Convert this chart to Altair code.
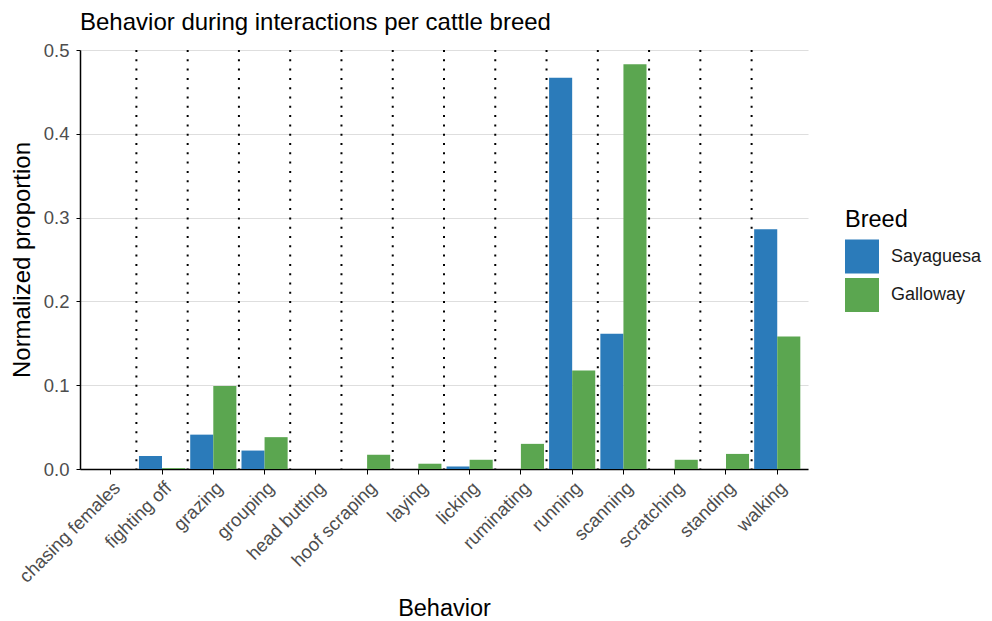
import altair as alt
import pandas as pd

behaviors = ["chasing females", "fighting off", "grazing", "grouping", "head butting",
             "hoof scraping", "laying", "licking", "ruminating", "running",
             "scanning", "scratching", "standing", "walking"]
breeds = ["Sayaguesa", "Galloway"]
sayaguesa = [0.0, 0.0155, 0.041, 0.022, 0.0, 0.0, 0.0, 0.003, 0.0, 0.467,
             0.1615, 0.0, 0.0, 0.286]
galloway = [0.0, 0.001, 0.099, 0.038, 0.0, 0.017, 0.0063, 0.011, 0.030, 0.1175,
            0.483, 0.011, 0.018, 0.158]
y_ticks = [0.0, 0.1, 0.2, 0.3, 0.4, 0.5]
colors = ["#2b7bba", "#5ba650"]

rows = []
for b, s, g in zip(behaviors, sayaguesa, galloway):
    rows.append({"Behavior": b, "Breed": "Sayaguesa", "value": s})
    rows.append({"Behavior": b, "Breed": "Galloway", "value": g})
df = pd.DataFrame(rows)
sep = pd.DataFrame({"Behavior": behaviors[:-1]})

W, H = 728, 419
FONT = "Liberation Sans"

xscale = alt.Scale(domain=behaviors, paddingInner=0, paddingOuter=0.1)

bars = alt.Chart(df).mark_bar().encode(
    x=alt.X("Behavior:N", scale=xscale, sort=behaviors, title="Behavior",
            axis=alt.Axis(labelAngle=-45, labelAlign="right", labelBaseline="top",
                          labelFontSize=18.5, labelColor="#4d4d4d", labelFont=FONT,
                          labelPadding=4, bandPosition=0.5,
                          tickColor="black", tickSize=5, tickWidth=1,
                          domainColor="black", domainWidth=1.5, grid=False,
                          titleFontSize=23.5, titleColor="black", titleFont=FONT,
                          titleFontWeight="normal", titlePadding=11)),
    xOffset=alt.XOffset("Breed:N", sort=breeds,
                        scale=alt.Scale(domain=breeds, paddingInner=0, paddingOuter=0.111)),
    y=alt.Y("value:Q", scale=alt.Scale(domain=[0, 0.5], nice=False, zero=True),
            title="Normalized proportion",
            axis=alt.Axis(values=y_ticks, format=".1f", labelFontSize=18.5,
                          labelColor="#4d4d4d", labelFont=FONT, labelPadding=7,
                          tickColor="black", tickSize=4, tickWidth=1,
                          domainColor="black", domainWidth=1.5,
                          grid=True, gridColor="#dedede", gridWidth=1.2,
                          titleFontSize=24, titleColor="black", titleFont=FONT,
                          titleFontWeight="normal", titlePadding=9)),
    color=alt.Color("Breed:N", scale=alt.Scale(domain=breeds, range=colors),
                    legend=alt.Legend(title="Breed", orient="none", legendX=765, legendY=158,
                                      titleFontSize=23.5, titleColor="black", titleFont=FONT,
                                      titleFontWeight="normal", titlePadding=8,
                                      labelFontSize=18, labelColor="#1a1a1a", labelFont=FONT,
                                      labelOffset=12, labelLimit=200,
                                      symbolType="square", symbolSize=1156,
                                      symbolStrokeWidth=0, symbolOpacity=1, rowPadding=4.5)),
)

rules = alt.Chart(sep).mark_rule(color="black", strokeWidth=2, strokeDash=[2, 7.3]).encode(
    x=alt.X("Behavior:N", scale=xscale, sort=behaviors, bandPosition=1, title="Behavior"),
    y=alt.value(0),
    y2=alt.value(H),
)

chart = alt.layer(bars, rules).properties(
    width=W, height=H,
    title=alt.TitleParams("Behavior during interactions per cattle breed", anchor="start",
                          frame="group", fontSize=24, font=FONT, fontWeight="normal",
                          color="black", offset=6),
    autosize=alt.AutoSizeParams(type="none"),
    padding={"left": 72, "top": 42, "right": 176, "bottom": 152},
).configure_view(stroke=None)

chart.save("out.html", embed_options={"renderer": "svg", "actions": False})
